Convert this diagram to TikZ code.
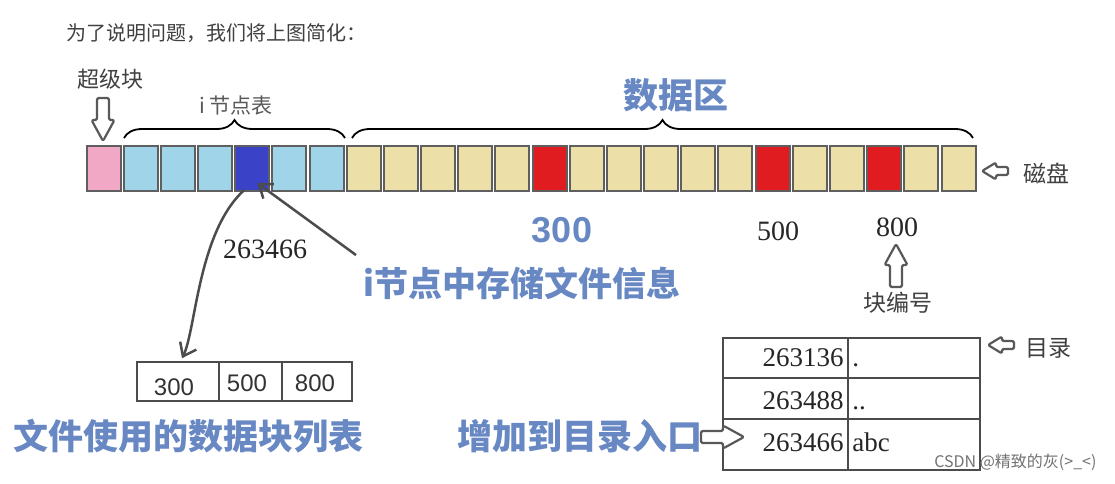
\documentclass[tikz,border=0pt]{standalone}
\usepackage{fontspec}
\setmainfont{Liberation Serif}
\newfontfamily\cjk{Noto Sans CJK SC}
\newfontfamily\arialf{Liberation Sans}
\usetikzlibrary{decorations.pathreplacing,arrows.meta}
\definecolor{pinkb}{RGB}{240,168,196}
\definecolor{lblue}{RGB}{160,212,232}
\definecolor{dblue}{RGB}{58,66,200}
\definecolor{yel}{RGB}{236,224,168}
\definecolor{redb}{RGB}{224,28,32}
\definecolor{tblue}{RGB}{104,136,196}
\definecolor{bgray}{RGB}{95,95,95}
\tikzset{
  blk/.style={draw=bgray, line width=2pt, minimum width=34pt, minimum height=45pt, inner sep=0pt},
  cjkg/.style={font=\cjk\fontsize{20}{22}\selectfont, text=black!75},
  cjkl/.style={font=\cjk\fontsize{23}{26}\selectfont, text=black!75},
  bluetxt/.style={font=\cjk\bfseries\fontsize{35}{40}\selectfont, text=tblue},
  serifnum/.style={font=\fontsize{28}{30}\selectfont, text=black!85},
  dirnum/.style={font=\fontsize{27}{30}\selectfont, text=black!85, inner xsep=5pt, inner ysep=2pt},
  cellbox/.style={draw=black!70, line width=1.5pt, inner sep=0pt},
  brc/.style={decorate, decoration={brace, amplitude=18pt}, line width=1.8pt, black},
  garrow/.style={draw=black!70, line width=2.5pt, -{Straight Barb[length=12pt,width=18pt]}},
  harrstyle/.style={draw=black!65, fill=white, line width=2.2pt, line join=round, rounded corners=1.5pt},
  longarr/.pic={\draw[harrstyle] (0,-6) -- (22,-6) -- (22,-11.5) -- (43,0) -- (22,11.5) -- (22,6) -- (0,6) -- cycle;},
  shortarr/.pic={\draw[harrstyle] (0,-4) -- (12,-4) -- (12,-8.5) -- (26,0) -- (12,8.5) -- (12,4) -- (0,4) -- cycle;}
}
\begin{document}
\begin{tikzpicture}[x=1pt,y=-1pt]
\useasboundingbox[fill=white] (0,0) rectangle (1115,483);
% heading
\node[cjkg, anchor=west] (head) at (63,33) {为了说明问题，我们将上图简化：};
% disk blocks
\foreach \c [count=\i from 0] in {pinkb,lblue,lblue,lblue,dblue,lblue,lblue,yel,yel,yel,yel,yel,redb,yel,yel,yel,yel,yel,redb,yel,yel,redb,yel,yel}
  \node[blk, fill=\c] (b\i) at ({85+37.17*(\i+0.5)},168.5) {};
% labels above
\node[cjkl, font=\cjk\fontsize{22}{24}\selectfont] (super) at (110,79) {超级块};
\pic[rotate=-90] at (103,98) {longarr};
\draw[brc] (124,138) -- (345,138);
\node[cjkl, font=\cjk\fontsize{21}{24}\selectfont, text=black!65] (inodetab) at (236,106) {i\,节点表};
\draw[brc] (352,138) -- (973,138);
\node[bluetxt] (datazone) at (676,95) {数据区};
% disk label
\pic[rotate=180] at (1008,171) {shortarr};
\node[cjkl] (disk) at (1046,173) {磁盘};
% numbers under blocks
\node[font=\arialf\bfseries\fontsize{36}{40}\selectfont, text=tblue] (n300) at (562,230) {300};
\node[serifnum] (n500) at (778,231) {500};
\node[serifnum] (n800) at (897,227) {800};
\pic[rotate=90] at (896,287) {longarr};
\node[cjkl] (blkno) at (898,303) {块编号};
% inode info
\node[serifnum] (inum) at (265,249) {263466};
\node[bluetxt, font=\cjk\bfseries\fontsize{34}{40}\selectfont] (info) at (522,283) {i节点中存储文件信息};
\draw[garrow] ([xshift=-4pt,yshift=8pt]info.north west) -- ([xshift=5pt,yshift=9pt]b4.south);
% small list table
\node[cellbox, minimum width=82pt, minimum height=39pt] (s1) at (178,381.5) {};
\node[cellbox, minimum width=63pt, minimum height=39pt] (s2) at (250.5,381.5) {};
\node[cellbox, minimum width=70pt, minimum height=39pt] (s3) at (317,381.5) {};
\node[font=\arialf\fontsize{24}{26}\selectfont, text=black!80] (t1) at (174,387) {300};
\node[font=\arialf\fontsize{24}{26}\selectfont, text=black!80] (t2) at (247,383) {500};
\node[font=\arialf\fontsize{24}{26}\selectfont, text=black!80] (t3) at (315,383) {800};
\draw[garrow] ([xshift=-8pt,yshift=2pt]b4.south) .. controls (198,232) and (196,330) .. ([xshift=4pt,yshift=3pt]s1.north);
\node[bluetxt] (listlbl) at (188,436) {文件使用的数据块列表};
% directory table
\node[cellbox, minimum width=125pt, minimum height=40pt] (d11) at (785.5,358) {};
\node[cellbox, minimum width=132pt, minimum height=40pt] (d12) at (914,358) {};
\node[cellbox, minimum width=125pt, minimum height=41pt] (d21) at (785.5,398.5) {};
\node[cellbox, minimum width=132pt, minimum height=41pt] (d22) at (914,398.5) {};
\node[cellbox, minimum width=125pt, minimum height=51pt] (d31) at (785.5,444.5) {};
\node[cellbox, minimum width=132pt, minimum height=51pt] (d32) at (914,444.5) {};
\node[dirnum, anchor=base east] (e11) at (d11.east |- 0,366) {263136};
\node[dirnum, anchor=base west] (e12) at (d12.west |- 0,366) {.};
\node[dirnum, anchor=base east] (e21) at (d21.east |- 0,409) {263488};
\node[dirnum, anchor=base west] (e22) at (d22.west |- 0,409) {..};
\node[dirnum, anchor=base east] (e31) at (d31.east |- 0,451) {263466};
\node[dirnum, anchor=base west] (e32) at (d32.west |- 0,451) {abc};
\pic[rotate=180] at (1014,345) {shortarr};
\node[cjkl] (dirlbl) at (1048,348) {目录};
\node[bluetxt] (addlbl) at (580,436) {增加到目录入口};
\pic at (701,437) {longarr};
% watermark
\node[font=\cjk\fontsize{16}{18}\selectfont, text=black!55, anchor=east] (wm) at (1100,462) {CSDN @精致的灰(>\_<)};
\end{tikzpicture}
\end{document}
